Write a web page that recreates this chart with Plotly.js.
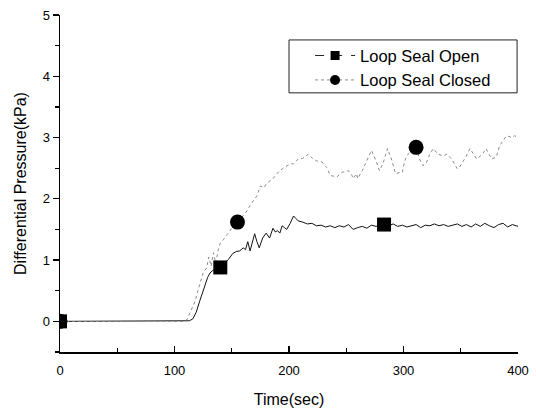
<!DOCTYPE html>
<html>
<head>
<meta charset="utf-8">
<script src="https://cdn.plot.ly/plotly-3.0.1.min.js"></script>
<style>
  html, body { margin: 0; padding: 0; background: #fff; }
  #chart { width: 536px; height: 409px; }
</style>
</head>
<body>
<div id="chart"></div>
<script>
// Differential pressure history, loop seal open vs closed
const seriesNames = ['Loop Seal Open', 'Loop Seal Closed'];

const openTime = [0, 50, 100, 110, 113, 116, 119, 122, 125, 127, 129, 131, 134, 137, 140, 143, 147, 151, 154, 157, 160, 162, 164, 166, 168, 170, 172, 174, 177, 180, 183, 186, 188, 190, 192, 194, 196, 198, 201, 204, 206, 208, 212, 216, 220, 224, 228, 232, 236, 240, 244, 248, 252, 256, 260, 264, 268, 272, 276, 280, 283, 287, 291, 295, 299, 303, 307, 311, 315, 319, 323, 327, 331, 335, 339, 343, 347, 351, 355, 359, 363, 367, 371, 375, 379, 383, 387, 391, 395, 400];
const openDp = [0, 0, 0, 0, 0.01, 0.04, 0.15, 0.33, 0.5, 0.63, 0.72, 0.79, 0.84, 0.86, 0.88, 0.93, 1.01, 1.11, 1.14, 1.15, 1.2, 1.17, 1.3, 1.15, 1.3, 1.43, 1.3, 1.2, 1.36, 1.44, 1.36, 1.52, 1.46, 1.48, 1.44, 1.56, 1.53, 1.5, 1.6, 1.72, 1.68, 1.64, 1.62, 1.59, 1.6, 1.56, 1.57, 1.54, 1.56, 1.53, 1.56, 1.54, 1.58, 1.5, 1.53, 1.55, 1.52, 1.57, 1.55, 1.57, 1.58, 1.56, 1.59, 1.55, 1.57, 1.54, 1.56, 1.58, 1.53, 1.57, 1.56, 1.59, 1.56, 1.58, 1.55, 1.57, 1.59, 1.55, 1.58, 1.54, 1.59, 1.55, 1.6, 1.56, 1.53, 1.58, 1.6, 1.54, 1.58, 1.55];

const closedTime = [0, 50, 100, 108, 111, 114, 118, 122, 125, 128, 130, 132, 134, 136, 138, 140, 143, 146, 150, 155, 159, 162, 166, 169, 172, 175, 178, 181, 184, 186, 189, 192, 195, 198, 201, 204, 208, 212, 217, 221, 224, 229, 233, 236, 242, 246, 252, 255, 256, 259, 260, 264, 268, 272, 276, 279, 282, 286, 290, 293, 297, 299, 301, 304, 308, 311, 314, 317, 320, 323, 326, 330, 335, 338, 342, 347, 349, 354, 358, 361, 364, 369, 372, 377, 381, 384, 387, 390, 395, 397, 400];
const closedDp = [0, 0, 0, 0, 0.03, 0.15, 0.33, 0.6, 0.79, 0.87, 1.05, 0.9, 1.12, 0.95, 1.15, 1.28, 1.34, 1.42, 1.52, 1.62, 1.7, 1.77, 1.89, 1.97, 2.05, 2.21, 2.18, 2.26, 2.3, 2.33, 2.4, 2.46, 2.5, 2.54, 2.57, 2.57, 2.65, 2.66, 2.73, 2.65, 2.62, 2.6, 2.51, 2.38, 2.36, 2.43, 2.46, 2.38, 2.33, 2.41, 2.33, 2.46, 2.62, 2.79, 2.62, 2.46, 2.57, 2.82, 2.62, 2.41, 2.43, 2.43, 2.62, 2.73, 2.8, 2.84, 2.65, 2.54, 2.59, 2.73, 2.82, 2.73, 2.7, 2.73, 2.65, 2.49, 2.52, 2.67, 2.82, 2.73, 2.65, 2.73, 2.82, 2.65, 2.68, 2.87, 2.95, 3.03, 3.0, 3.03, 3.0];

// Symbol markers placed along each curve
const openMarkTime = [0, 140, 283];
const openMarkDp = [0, 0.88, 1.58];
const closedMarkTime = [0, 155, 311];
const closedMarkDp = [0, 1.62, 2.84];

const xTicks = [0, 100, 200, 300, 400];
const yTicks = [0, 1, 2, 3, 4, 5];

const openColor = '#111';
const closedColor = '#8a8a8a';

const traces = [
  { x: openTime, y: openDp, mode: 'lines', showlegend: false,
    line: { color: openColor, width: 1 } },
  { x: closedTime, y: closedDp, mode: 'lines', showlegend: false,
    line: { color: closedColor, width: 1, dash: 'dot' } },
  { x: openMarkTime, y: openMarkDp, mode: 'markers', showlegend: false,
    marker: { symbol: 'square', size: 14, color: '#000' } },
  { x: closedMarkTime, y: closedMarkDp, mode: 'markers', showlegend: false,
    marker: { symbol: 'circle', size: 15, color: '#000' } },
  // legend entries
  { x: [null], y: [null], mode: 'lines+markers', name: seriesNames[0],
    line: { color: '#222', width: 1, dash: 'dash' },
    marker: { symbol: 'square', size: 9, color: '#000' } },
  { x: [null], y: [null], mode: 'lines+markers', name: seriesNames[1],
    line: { color: closedColor, width: 1, dash: 'dot' },
    marker: { symbol: 'circle', size: 10, color: '#000' } }
];

const layout = {
  width: 536, height: 409,
  margin: { l: 60, r: 18, t: 15, b: 57 },
  paper_bgcolor: '#fff', plot_bgcolor: '#fff',
  font: { family: 'Liberation Sans, Arial, sans-serif', color: '#000' },
  showlegend: true,
  legend: {
    x: 0.546, xanchor: 'left', y: 0.931, yanchor: 'top',
    bgcolor: 'rgba(0,0,0,0)', borderwidth: 0,
    font: { size: 16.5 }, itemwidth: 40, tracegroupgap: 0
  },
  // frame around the legend
  shapes: [{
    type: 'rect', xref: 'paper', yref: 'paper',
    x0: 0.5, x1: 0.998, y0: 0.769, y1: 0.926,
    line: { color: '#222', width: 1 }, fillcolor: 'rgba(0,0,0,0)', layer: 'below'
  }],
  xaxis: {
    range: [0, 400], tickvals: xTicks, ticktext: xTicks.map(String),
    ticks: 'inside', ticklen: 6, tickwidth: 1.2, tickcolor: '#000',
    minor: { dtick: 50, tick0: 0, ticks: 'inside', ticklen: 4, tickcolor: '#000' },
    showline: true, linecolor: '#000', linewidth: 1.5,
    showgrid: false, zeroline: false,
    tickfont: { size: 13 }, ticklabelstandoff: 6,
    title: { text: 'Time(sec)', font: { size: 16 }, standoff: 16 }
  },
  yaxis: {
    range: [-0.5, 5], tickvals: yTicks, ticktext: yTicks.map(String),
    ticks: 'outside', ticklen: 6, tickwidth: 1.2, tickcolor: '#000',
    minor: { dtick: 0.5, tick0: 0, ticks: 'outside', ticklen: 4, tickcolor: '#000' },
    showline: true, linecolor: '#000', linewidth: 1.5,
    showgrid: false, zeroline: false,
    tickfont: { size: 13 },
    title: { text: 'Differential Pressure(kPa)', font: { size: 16 }, standoff: 12 }
  }
};

Plotly.newPlot('chart', traces, layout, { staticPlot: true, displayModeBar: false });
</script>
</body>
</html>
